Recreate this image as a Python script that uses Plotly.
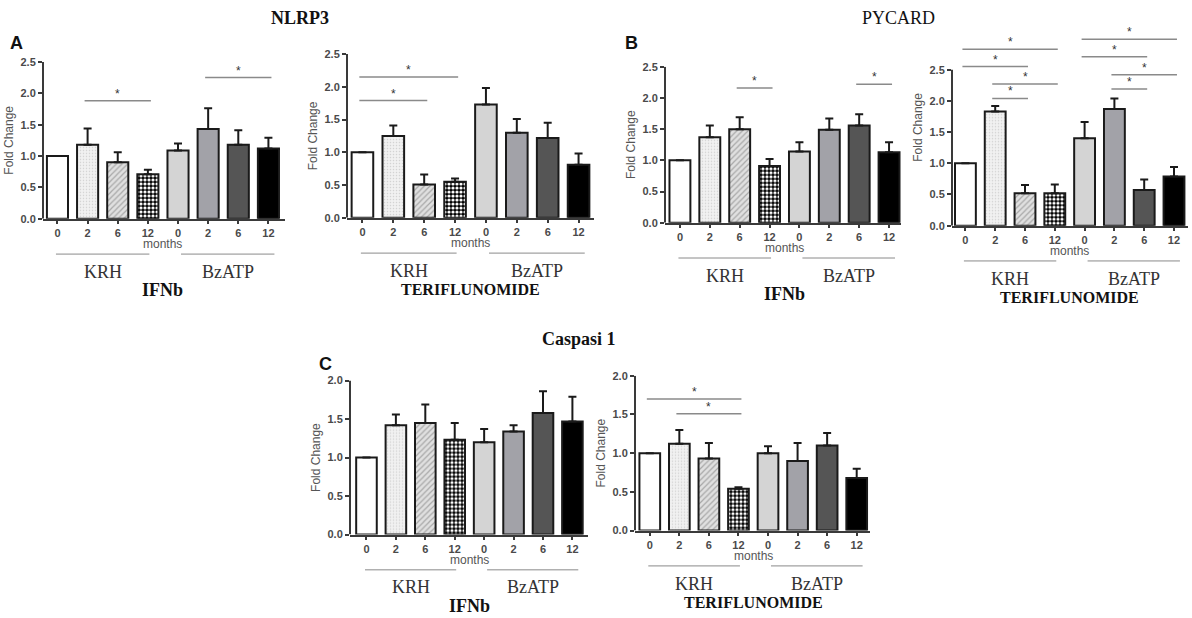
import plotly.graph_objects as go

# %% data (fold change, mean and SEM)
months = ["0", "2", "6", "12", "0", "2", "6", "12"]
groups = ["KRH", "BzATP"]

nlrp3_ifnb = [1.00, 1.18, 0.90, 0.71, 1.09, 1.43, 1.18, 1.12]
nlrp3_ifnb_sem = [0.00, 0.26, 0.16, 0.07, 0.11, 0.33, 0.23, 0.17]
nlrp3_teri = [1.00, 1.25, 0.51, 0.55, 1.73, 1.30, 1.22, 0.81]
nlrp3_teri_sem = [0.00, 0.16, 0.15, 0.05, 0.25, 0.21, 0.23, 0.17]

pycard_ifnb = [1.00, 1.37, 1.50, 0.91, 1.14, 1.49, 1.56, 1.13]
pycard_ifnb_sem = [0.00, 0.19, 0.19, 0.11, 0.15, 0.18, 0.18, 0.16]
pycard_teri = [1.00, 1.83, 0.52, 0.52, 1.40, 1.87, 0.57, 0.79]
pycard_teri_sem = [0.00, 0.09, 0.13, 0.14, 0.26, 0.17, 0.17, 0.15]

casp1_ifnb = [1.00, 1.42, 1.45, 1.23, 1.20, 1.34, 1.58, 1.47]
casp1_ifnb_sem = [0.00, 0.14, 0.24, 0.22, 0.17, 0.08, 0.28, 0.32]
casp1_teri = [1.00, 1.12, 0.93, 0.54, 1.00, 0.90, 1.10, 0.68]
casp1_teri_sem = [0.00, 0.18, 0.20, 0.02, 0.09, 0.23, 0.16, 0.12]

# significance brackets: (from bar, to bar, height)
nlrp3_ifnb_sig = [(1, 3, 1.88), (5, 7, 2.25)]
nlrp3_teri_sig = [(0, 3, 2.15), (0, 2, 1.79)]
pycard_ifnb_sig = [(2, 3, 2.16), (6, 7, 2.22)]
pycard_teri_sig = [(0, 3, 2.83), (0, 2, 2.55), (1, 3, 2.27), (1, 2, 2.04),
                   (4, 7, 2.99), (4, 6, 2.71), (5, 7, 2.42), (5, 6, 2.19)]
casp1_ifnb_sig = []
casp1_teri_sig = [(0, 3, 1.70), (1, 3, 1.51)]

# %% bar styling (same for every panel), one entry per bar position
bar_colors = ["#ffffff", "#f1f1f1", "#e0e0e0", "#000000", "#d4d4d4", "#a2a2a8", "#555555", "#000000"]
pat_shape = ["", ".", "/", ".", "", "", "", ""]
pat_fg = ["#ffffff", "#d2d2d2", "#a8a8a8", "#ffffff", "#ffffff", "#ffffff", "#ffffff", "#ffffff"]
pat_size = [6, 3, 4, 4, 6, 6, 6, 6]
pat_solid = [0.3, 0.2, 0.3, 0.5, 0.3, 0.3, 0.3, 0.3]

W, H = 1192, 618

# pixel geometry of each panel: x0, x1, y of zero, y of top tick
panels = [
    dict(mean=nlrp3_ifnb, sem=nlrp3_ifnb_sem, sig=nlrp3_ifnb_sig, label="IFNb",
         px=(43, 285), y0=217, ytop=57, top=2.5, ymax=2.5, xr=(-0.48, 7.55)),
    dict(mean=nlrp3_teri, sem=nlrp3_teri_sem, sig=nlrp3_teri_sig, label="TERIFLUNOMIDE",
         px=(347, 594), y0=216, ytop=49, top=2.5, ymax=2.5, xr=(-0.5, 7.5)),
    dict(mean=pycard_ifnb, sem=pycard_ifnb_sem, sig=pycard_ifnb_sig, label="IFNb",
         px=(665, 901), y0=221, ytop=62, top=2.5, ymax=2.5, xr=(-0.5, 7.4)),
    dict(mean=pycard_teri, sem=pycard_teri_sem, sig=pycard_teri_sig, label="TERIFLUNOMIDE",
         px=(952, 1188), y0=224, ytop=65, top=2.5, ymax=3.15, xr=(-0.45, 7.47)),
    dict(mean=casp1_ifnb, sem=casp1_ifnb_sem, sig=casp1_ifnb_sig, label="IFNb",
         px=(350, 588), y0=539, ytop=382, top=2.0, ymax=2.0, xr=(-0.56, 7.53)),
    dict(mean=casp1_teri, sem=casp1_teri_sem, sig=casp1_teri_sig, label="TERIFLUNOMIDE",
         px=(635, 870), y0=535, ytop=377, top=2.0, ymax=2.0, xr=(-0.5, 7.45)),
]

AXIS = "#3a3a3a"
TICKC = "#4a4a4a"
SANS = "Liberation Sans, Arial"
SERIF = "Liberation Serif, Times New Roman"


def py(pix):
    return 1 - pix / H


def label(x, y, text, xref, yref, font, **kw):
    return dict(x=x, y=y, xref=xref, yref=yref, text=text, showarrow=False,
                xanchor="center", yanchor="middle", font=font, **kw)


fig = go.Figure()
shapes = []
annotations = []
xpos = list(range(len(months)))

for n, p in enumerate(panels, start=1):
    sfx = "" if n == 1 else str(n)
    xa, ya = "x" + sfx, "y" + sfx

    # one trace per bar so each bar keeps its own fill pattern
    for i in xpos:
        fig.add_trace(go.Bar(
            x=[i], y=[p["mean"][i]], width=0.7,
            xaxis=xa, yaxis=ya, showlegend=False, hoverinfo="skip",
            marker=dict(color=bar_colors[i],
                        line=dict(color="#1a1a1a", width=2),
                        pattern=dict(shape=pat_shape[i], fgcolor=pat_fg[i],
                                     bgcolor=bar_colors[i], size=pat_size[i],
                                     solidity=pat_solid[i], fillmode="replace")),
            error_y=dict(type="data", symmetric=False, array=[p["sem"][i]],
                         arrayminus=[0], color="#1a1a1a", thickness=2, width=4),
        ))

    scale = (p["y0"] - p["ytop"]) / p["top"]
    top_pix = p["y0"] - scale * p["ymax"]
    ticks = [i * 0.5 for i in range(int(p["top"] / 0.5) + 1)]

    fig.update_layout({
        "xaxis" + sfx: dict(
            domain=[p["px"][0] / W, p["px"][1] / W], anchor=ya, range=list(p["xr"]),
            tickvals=xpos, ticktext=months, showgrid=False, zeroline=False,
            showline=True, linecolor=AXIS, linewidth=2,
            ticks="outside", ticklen=3, tickwidth=1.5, tickcolor=AXIS,
            tickfont=dict(family=SANS, size=11, color=TICKC, weight="bold"),
        ),
        "yaxis" + sfx: dict(
            domain=[py(p["y0"]), py(top_pix)], anchor=xa, range=[0, p["ymax"]],
            tickvals=ticks, tickformat=".1f", showgrid=False, zeroline=False,
            showline=False, ticks="outside", ticklen=4, tickwidth=1.5, tickcolor=AXIS,
            tickfont=dict(family=SANS, size=11, color=TICKC, weight="bold"),
            title=dict(text="Fold Change", standoff=4,
                       font=dict(family=SANS, size=12, color="#555555")),
        ),
    })

    # y axis line only up to the last tick
    shapes.append(dict(type="line", xref=xa + " domain", yref=ya, x0=0, x1=0,
                       y0=0, y1=p["top"], line=dict(color=AXIS, width=2)))

    # significance brackets
    for a, b, lvl in p["sig"]:
        shapes.append(dict(type="line", xref=xa, yref=ya, x0=a - 0.1, x1=b + 0.1,
                           y0=lvl, y1=lvl, line=dict(color="#8a8a8a", width=1.5)))
        annotations.append(label((a + b) / 2, lvl, "*", xa, ya,
                                 dict(family=SANS, size=12, color="#333333"), yshift=7))

    # labels under the axis
    b0 = p["y0"]
    annotations.append(label(3.5, py(b0 + 26), "months", xa, "paper",
                             dict(family=SANS, size=12, color="#555555")))
    for g, (g0, g1) in zip(groups, [(-0.05, 3.05), (4.1, 7.2)]):
        shapes.append(dict(type="line", xref=xa, yref="paper", x0=g0, x1=g1,
                           y0=py(b0 + 36), y1=py(b0 + 36),
                           line=dict(color="#8a8a8a", width=1)))
        annotations.append(label((g0 + g1) / 2, py(b0 + 54), g, xa, "paper",
                                 dict(family=SERIF, size=18, color="#333333")))
    annotations.append(label(3.5, py(b0 + 73), p["label"], xa, "paper",
                             dict(family=SERIF, size=18 if p["label"] == "IFNb" else 16,
                                  color="#111111", weight="bold")))

# gene titles and panel letters
for text, xp, yp in [("NLRP3", 300, 12), ("PYCARD", 898, 12), ("Caspasi 1", 579, 340)]:
    annotations.append(label(xp / W, py(yp), text, "paper", "paper",
                             dict(family=SERIF, size=18, color="#111111",
                                  weight="normal" if text == "PYCARD" else "bold")))
for text, xp, yp in [("A", 16, 38), ("B", 631, 38), ("C", 325, 365)]:
    annotations.append(label(xp / W, py(yp), text, "paper", "paper",
                             dict(family=SANS, size=18, color="#111111", weight="bold")))

fig.update_layout(
    width=W, height=H,
    margin=dict(l=0, r=0, t=0, b=0),
    paper_bgcolor="white", plot_bgcolor="white",
    barmode="overlay",
    shapes=shapes, annotations=annotations,
)

# keep the page exactly the size of the figure (no body margin, no overflow)
page_fix = """
document.documentElement.style.margin = '0';
document.documentElement.style.overflow = 'hidden';
document.body.style.margin = '0';
document.body.style.overflow = 'hidden';
var wrap = document.getElementById('{plot_id}').parentElement;
wrap.style.height = '618px';
wrap.style.width = '1192px';
wrap.style.overflow = 'hidden';
"""
fig.write_html("out.html", config={"displayModeBar": False}, post_script=page_fix)
